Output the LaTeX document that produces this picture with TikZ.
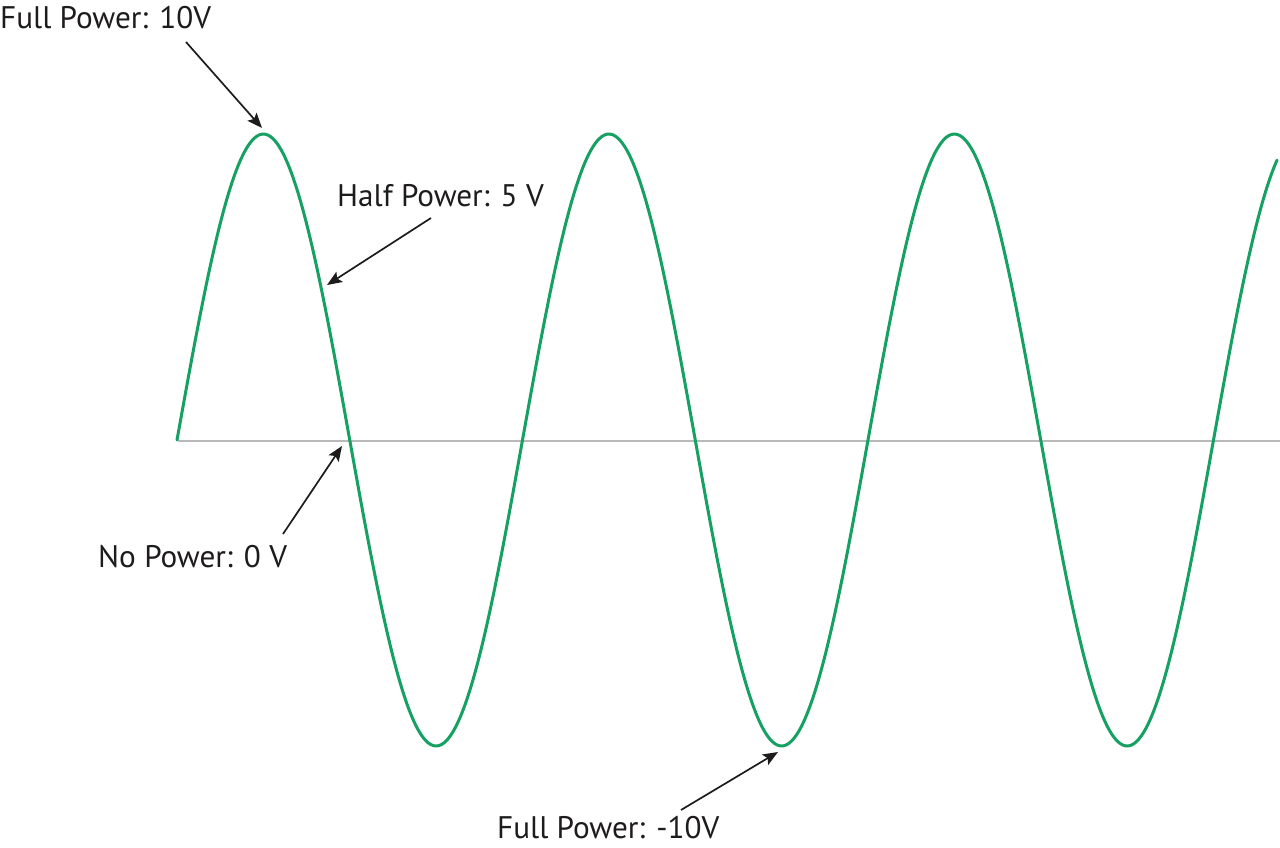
\documentclass[tikz,border=0pt]{standalone}
\usepackage{fontspec}
\setmainfont{PT Sans}
\usetikzlibrary{arrows.meta}
\definecolor{wavegreen}{RGB}{22,160,98}
\definecolor{axisgray}{RGB}{185,185,185}
\definecolor{inkdark}{RGB}{30,27,28}
\tikzset{
  lbl/.style={anchor=base west, inner sep=0pt, text=inkdark, font=\fontsize{31.2}{37}\selectfont},
  pointer/.style={draw=inkdark, line width=1.7pt, -{Stealth[length=15pt,width=12pt,inset=3pt]}},
}
\begin{document}
\begin{tikzpicture}[x=1pt,y=-1pt]
\useasboundingbox[fill=white] (0,0) rectangle (1280,847);
% axis
\coordinate (axL) at (178,441);
\coordinate (axR) at (1280,441);
\draw[axisgray, line width=2.2pt] (axL) -- (axR);
% wave
\draw[wavegreen, line width=3pt, line join=round, line cap=round, samples=400, domain=177:1277, smooth]
  plot (\x, {440 - 306*sin((\x-177)/345.5*360)});
% labels
\node[lbl] (fp) at (0,28) {Full Power: 10V};
\node[lbl] (hp) at (337,206) {Half Power: 5 V};
\node[lbl] (np) at (98,567) {No Power: 0 V};
\node[lbl] (fm) at (497,838) {Full Power: -10V};
% arrow endpoints
\coordinate (fpS) at (186,42);  \coordinate (fpT) at (262,128);
\coordinate (hpS) at (431,218); \coordinate (hpT) at (327,285);
\coordinate (npS) at (283,534); \coordinate (npT) at (342,446);
\coordinate (fmS) at (681,810); \coordinate (fmT) at (778,752);
\draw[pointer] (fpS) -- (fpT);
\draw[pointer] (hpS) -- (hpT);
\draw[pointer] (npS) -- (npT);
\draw[pointer] (fmS) -- (fmT);
\end{tikzpicture}
\end{document}
